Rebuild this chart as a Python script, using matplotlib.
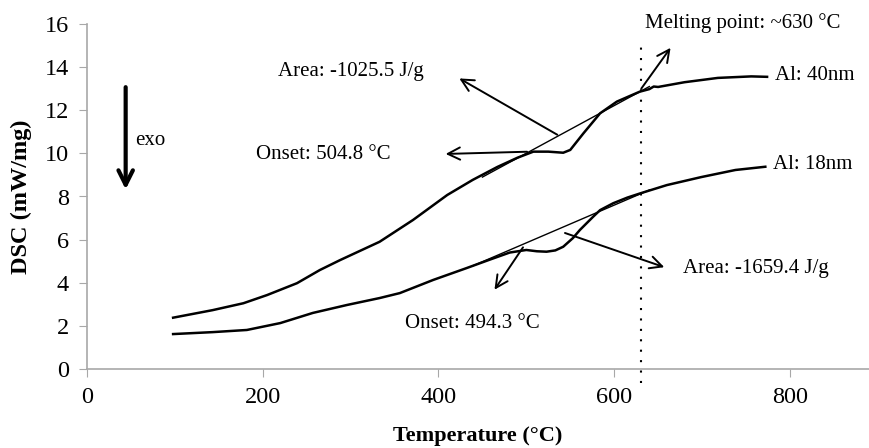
import matplotlib.pyplot as plt

plt.rcParams['font.family'] = ['Liberation Serif', 'DejaVu Serif']

# Al: 40nm curve
t40 = [98, 143, 178, 205, 239, 265, 288, 333, 371, 410, 439, 467, 490, 508, 525, 542,
       550, 565, 584, 603, 629, 640, 645, 650, 680, 718, 756, 774]
dsc40 = [2.38, 2.73, 3.05, 3.43, 3.98, 4.59, 5.05, 5.9, 6.91, 8.07, 8.77, 9.37, 9.8, 10.08,
         10.08, 10.03, 10.16, 10.93, 11.86, 12.4, 12.86, 12.98, 13.1, 13.08, 13.3, 13.5, 13.57, 13.55]

# Al: 18nm curve
t18 = [98, 143, 182, 220, 257, 296, 333, 356, 394, 432, 459, 481, 500, 512, 523, 533, 542,
       553, 561, 576, 584, 599, 615, 630, 660, 699, 738, 772]
dsc18 = [1.62, 1.71, 1.81, 2.13, 2.6, 2.97, 3.29, 3.52, 4.13, 4.68, 5.08, 5.4, 5.52, 5.46, 5.44,
         5.5, 5.67, 6.07, 6.45, 7.06, 7.37, 7.69, 7.95, 8.15, 8.53, 8.9, 9.23, 9.38]

# tangent (baseline) lines used for onset
base40_t = [450, 640]
base40_y = [8.9, 13.1]
base18_t = [440, 640]
base18_y = [4.8, 8.3]

melting_point = 630

fig = plt.figure(figsize=(8.69, 4.48), dpi=100)
ax = fig.add_axes([87 / 869, 1 - 369 / 448, 782 / 869, 345 / 448])

ax.plot(t40, dsc40, color='black', lw=1.8)
ax.plot(t18, dsc18, color='black', lw=1.8)
ax.plot(base40_t, base40_y, color='black', lw=1.0)
ax.plot(base18_t, base18_y, color='black', lw=1.0)

# melting point line
ax.plot([melting_point, melting_point], [-0.65, 15.1], color='black', lw=1.5,
        linestyle=(0, (1, 4)), clip_on=False)

ax.set_xlim(0, 890)
ax.set_ylim(0, 16)
ax.set_xticks([0, 200, 400, 600, 800])
ax.set_yticks(range(0, 17, 2))

for s in ['top', 'right']:
    ax.spines[s].set_visible(False)
for s in ['left', 'bottom']:
    ax.spines[s].set_color('#a8a8a8')
    ax.spines[s].set_linewidth(1.2)
ax.tick_params(colors='#a8a8a8', labelcolor='black', labelsize=17.5, length=6, pad=7)

ax.set_xlabel('Temperature (°C)', fontsize=16, fontweight='bold', labelpad=13)
ax.set_ylabel('DSC (mW/mg)', fontsize=17.5, fontweight='bold', labelpad=9)

arrow = dict(arrowstyle='->', color='black', lw=1.4, mutation_scale=22)
fs = 15

# arrows: (head, tail)
ax.annotate('', xy=(421, 13.54), xytext=(538, 10.8), arrowprops=arrow)
ax.annotate('', xy=(405, 9.97), xytext=(504, 10.08), arrowprops=arrow)
ax.annotate('', xy=(666, 15.0), xytext=(629, 12.9), arrowprops=arrow)
ax.annotate('', xy=(462, 3.57), xytext=(498, 5.75), arrowprops=arrow)
ax.annotate('', xy=(660, 4.68), xytext=(541, 6.35), arrowprops=arrow)

ax.text(217, 13.78, 'Area: -1025.5 J/g', fontsize=fs, va='center')
ax.text(192, 9.93, 'Onset: 504.8 °C', fontsize=fs, va='center')
ax.text(635, 16.05, 'Melting point: ~630 °C', fontsize=fs, va='center', clip_on=False)
ax.text(783, 13.59, 'Al: 40nm', fontsize=fs, va='center')
ax.text(781, 9.5, 'Al: 18nm', fontsize=fs, va='center')
ax.text(362, 2.13, 'Onset: 494.3 °C', fontsize=fs, va='center')
ax.text(678, 4.68, 'Area: -1659.4 J/g', fontsize=fs, va='center')

# exo arrow
ax.annotate('', xy=(44, 8.2), xytext=(44, 13.2),
            arrowprops=dict(arrowstyle='->', color='black', lw=3, mutation_scale=26))
ax.text(55, 10.6, 'exo', fontsize=fs, va='center')

fig.savefig('out.png', dpi=100)
